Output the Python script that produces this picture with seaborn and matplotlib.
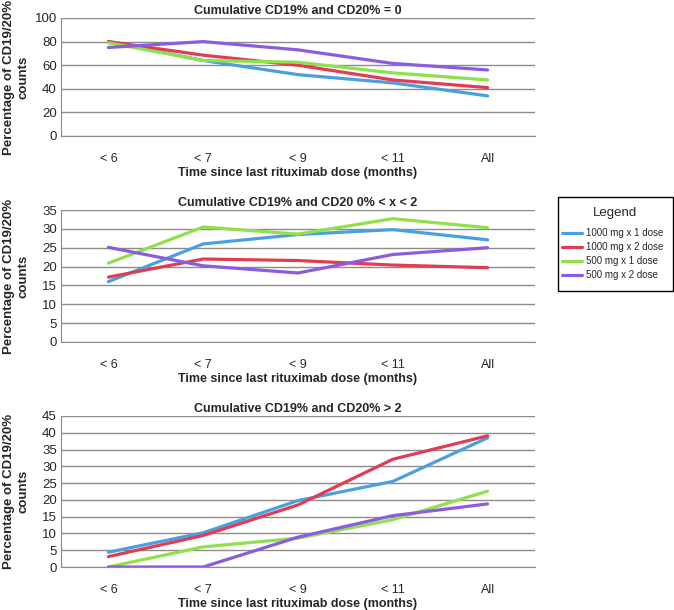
import pandas as pd
import matplotlib.pyplot as plt
import seaborn as sns
from matplotlib.patches import Rectangle

# categories on the x axis
months = ['< 6', '< 7', '< 9', '< 11', 'All']
doses = ['1000 mg x 1 dose', '1000 mg x 2 dose', '500 mg x 1 dose', '500 mg x 2 dose']

# panel 1: CD19% and CD20% = 0
zero_1000x1 = [80, 64, 52, 45, 34]
zero_1000x2 = [80, 68.5, 60, 47.5, 41]
zero_500x1 = [79, 64, 62.5, 53.5, 47.5]
zero_500x2 = [75, 80, 73, 61.5, 56]

# panel 2: 0% < x < 2
mid_1000x1 = [16, 26, 28.5, 29.8, 27.1]
mid_1000x2 = [17.2, 22, 21.6, 20.4, 19.7]
mid_500x1 = [20.9, 30.5, 28.6, 32.7, 30.3]
mid_500x2 = [25.1, 20.2, 18.3, 23.2, 25]

# panel 3: > 2
high_1000x1 = [4.4, 10.2, 19.8, 25.5, 38.5]
high_1000x2 = [3.1, 9.4, 18.5, 32.1, 39.1]
high_500x1 = [0, 6, 8.6, 14.1, 22.6]
high_500x2 = [0, 0, 8.9, 15.3, 18.8]

panels = [
    ('Cumulative CD19% and CD20% = 0', [zero_1000x1, zero_1000x2, zero_500x1, zero_500x2], 100, 20),
    ('Cumulative CD19% and CD20 0% < x < 2', [mid_1000x1, mid_1000x2, mid_500x1, mid_500x2], 35, 5),
    ('Cumulative CD19% and CD20% > 2', [high_1000x1, high_1000x2, high_500x1, high_500x2], 45, 5),
]

palette = ['#4a9fe0', '#e03c52', '#8fe04a', '#8c5ce0']

sns.set_style('white')
plt.rcParams['font.family'] = ['Liberation Sans', 'DejaVu Sans']

fig = plt.figure(figsize=(6.74, 6.10), dpi=100)
# axes boxes in pixels: left, right, top, bottom
boxes = [(61, 535, 18, 136), (61, 535, 210, 342), (61, 535, 416, 567)]
W, H = 674, 610
handles, labels = None, None

for (title, series, ymax, step), (l, r, t, b) in zip(panels, boxes):
    ax = fig.add_axes([l / W, 1 - b / H, (r - l) / W, (b - t) / H])
    rows = []
    for dose, vals in zip(doses, series):
        for m, v in zip(months, vals):
            rows.append({'month': m, 'value': v, 'dose': dose})
    df = pd.DataFrame(rows)
    sns.lineplot(data=df, x='month', y='value', hue='dose', hue_order=doses,
                 palette=palette, linewidth=2.3, ax=ax, sort=False)
    if handles is None:
        handles, labels = ax.get_legend_handles_labels()
    ax.get_legend().remove()
    ax.set_xlim(-0.5, 4.5)
    ax.set_ylim(0, ymax)
    ax.set_yticks(range(0, ymax + 1, step))
    ax.yaxis.grid(True, color='#8c8c8c', linewidth=1)
    ax.set_axisbelow(True)
    for s in ['top', 'right']:
        ax.spines[s].set_visible(False)
    for s in ['left', 'bottom']:
        ax.spines[s].set_color('#8c8c8c')
    ax.tick_params(axis='x', length=0, pad=12, labelsize=9)
    ax.set_xticks([i - 0.5 for i in range(6)], minor=True)
    ax.tick_params(axis='x', which='minor', length=4, color='#8c8c8c', direction='out')
    ax.tick_params(axis='y', length=0, labelsize=9.5, pad=3)
    ax.set_title(title, fontsize=9, fontweight='bold', pad=3)
    ax.set_xlabel('Time since last rituximab dose (months)', fontsize=9, fontweight='bold', labelpad=2)
    ax.set_ylabel('Percentage of CD19/20%\ncounts', fontsize=9.5, fontweight='bold')
    ax.yaxis.set_label_coords(-32 / (r - l), 0.5)

# legend box drawn by hand so the padding matches
fig.patches.append(Rectangle((558 / W, 1 - 291 / H), 115 / W, 94 / H, transform=fig.transFigure,
                             fill=False, edgecolor='black', linewidth=1))
fig.text(615 / W, 1 - 213 / H, 'Legend', ha='center', va='center', fontsize=9.5)
leg = fig.legend(handles, labels, loc='upper left', bbox_to_anchor=(562 / W, 1 - 228 / H),
                 fontsize=7, frameon=False, borderpad=0, borderaxespad=0,
                 handlelength=2.1, labelspacing=0.42, handletextpad=0.4)
for line in leg.get_lines():
    line.set_linewidth(2.3)

fig.savefig('out.png', dpi=100)
